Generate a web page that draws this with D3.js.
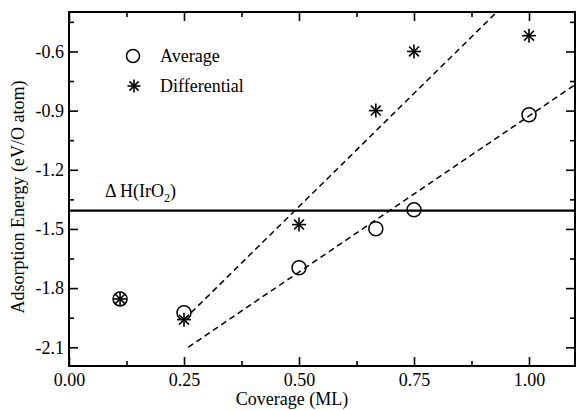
<!DOCTYPE html>
<html>
<head>
<meta charset="utf-8">
<script src="https://cdn.jsdelivr.net/npm/d3@7"></script>
<style>
  body { margin: 0; background: #fff; }
  svg { display: block; }
  text { font-family: 'Liberation Serif', 'DejaVu Serif', serif; }
</style>
</head>
<body>
<div id="chart"></div>
<script>
// coverage (ML) of each calculated structure
const coverage = [0.111, 0.25, 0.5, 0.667, 0.75, 1.0];
// adsorption energies (eV/O atom)
const averageEnergy = [-1.855, -1.925, -1.697, -1.499, -1.403, -0.921];
const differentialEnergy = [-1.855, -1.960, -1.478, -0.900, -0.600, -0.520];
// dashed guide lines, end points
const averageFit = [[0.259, -2.10], [1.10, -0.769]];
const differentialFit = [[0.25, -1.96], [0.93, -0.40]];
// heat of formation of IrO2
const deltaH = -1.407;

const xTicks = [0, 0.25, 0.5, 0.75, 1.0];
const xMinorTicks = [0.125, 0.375, 0.625, 0.875, 1.125];
const yTicks = [-2.1, -1.8, -1.5, -1.2, -0.9, -0.6];
const yMinorTicks = [-1.95, -1.65, -1.35, -1.05, -0.75, -0.45];

const width = 576, height = 410;
const margin = { top: 12, right: 1, bottom: 44, left: 69 };
const serif = "'Liberation Serif', 'DejaVu Serif', serif";

const svg = d3.select('#chart').append('svg')
  .attr('width', width)
  .attr('height', height)
  .attr('font-family', serif);

const x = d3.scaleLinear()
  .domain([0, 1.1])
  .range([margin.left, width - margin.right]);
const y = d3.scaleLinear()
  .domain([-2.195, -0.4])
  .range([height - margin.bottom, margin.top]);

svg.append('clipPath').attr('id', 'plot-clip')
  .append('rect')
    .attr('x', x(0)).attr('y', y(-0.4))
    .attr('width', x(1.1) - x(0)).attr('height', y(-2.195) - y(-0.4));

// ticks point into the plot on all four sides
function frameAxis(axis, major, minor, transform, fmt) {
  const g = svg.append('g').attr('transform', transform);
  g.call(axis.tickValues(major).tickSize(-9).tickFormat(fmt));
  g.attr('font-family', serif).attr('font-size', 18);
  g.select('.domain').remove();
  g.selectAll('.tick line').attr('stroke-width', 1.6);
  const gm = svg.append('g').attr('transform', transform);
  gm.call(axis.tickValues(minor).tickSize(-5).tickFormat(''));
  gm.select('.domain').remove();
  gm.selectAll('.tick line').attr('stroke-width', 1.6);
  return g;
}

const xb = frameAxis(d3.axisBottom(x), xTicks, xMinorTicks, 'translate(0,' + y(-2.195) + ')', d3.format('.2f'));
frameAxis(d3.axisTop(x), xTicks, xMinorTicks, 'translate(0,' + y(-0.4) + ')', '');
const yl = frameAxis(d3.axisLeft(y), yTicks, yMinorTicks, 'translate(' + x(0) + ',0)', d3.format('.1f'));
frameAxis(d3.axisRight(y), yTicks, yMinorTicks, 'translate(' + x(1.1) + ',0)', '');

xb.selectAll('.tick text')
  .attr('fill', '#000')
  .attr('y', 7).attr('dy', '0.71em');
yl.selectAll('.tick text')
  .attr('fill', '#000')
  .attr('x', -5).attr('dy', '0.32em')
  .text(function(d) { return d3.format('.1f')(d).replace('−', '-'); });

svg.append('rect')
  .attr('x', x(0)).attr('y', y(-0.4))
  .attr('width', x(1.1) - x(0)).attr('height', y(-2.195) - y(-0.4))
  .attr('fill', 'none').attr('stroke', '#000').attr('stroke-width', 2);

const plot = svg.append('g').attr('clip-path', 'url(#plot-clip)');

// heat of formation line
plot.append('line')
  .attr('x1', x(0)).attr('x2', x(1.1))
  .attr('y1', y(deltaH)).attr('y2', y(deltaH))
  .attr('stroke', '#000').attr('stroke-width', 2.2);

const line = d3.line()
  .x(function(d) { return x(d[0]) })
  .y(function(d) { return y(d[1]) });

[averageFit, differentialFit].forEach(function(fit) {
  plot.append('path')
    .attr('d', line(fit))
    .attr('fill', 'none').attr('stroke', '#000')
    .attr('stroke-width', 1.5).attr('stroke-dasharray', '6,4');
});

function star(g, cx, cy, r) {
  [0, 45, 90, 135].forEach(function(a) {
    const rad = a * Math.PI / 180;
    g.append('line')
      .attr('x1', cx - r * Math.cos(rad)).attr('y1', cy - r * Math.sin(rad))
      .attr('x2', cx + r * Math.cos(rad)).attr('y2', cy + r * Math.sin(rad))
      .attr('stroke', '#000').attr('stroke-width', 1.6);
  });
}

const avgPoints = coverage.map(function(c, i) { return [c, averageEnergy[i]] });
const diffPoints = coverage.map(function(c, i) { return [c, differentialEnergy[i]] });

plot.selectAll('.avg')
  .data(avgPoints)
  .enter().append('circle')
    .attr('class', 'avg')
    .attr('cx', function(d) { return x(d[0]) })
    .attr('cy', function(d) { return y(d[1]) })
    .attr('r', 7)
    .attr('fill', 'none').attr('stroke', '#000').attr('stroke-width', 1.5);

const stars = plot.append('g');
diffPoints.forEach(function(d) { star(stars, x(d[0]), y(d[1]), 7); });

// legend
const legend = svg.append('g').attr('font-size', 18);
legend.append('circle')
  .attr('cx', 133).attr('cy', 56).attr('r', 6.5)
  .attr('fill', 'none').attr('stroke', '#000').attr('stroke-width', 1.5);
legend.append('text').attr('x', 160).attr('y', 62).text('Average');
star(legend, 134, 86, 6.5);
legend.append('text').attr('x', 160).attr('y', 92).text('Differential');

// ΔH label
const dh = svg.append('text').attr('x', 105).attr('y', 197).attr('font-size', 18);
dh.append('tspan').text('\u0394 H(IrO');
dh.append('tspan').attr('font-size', 12).attr('dy', 5).text('2');
dh.append('tspan').attr('dy', -5).text(')');

// axis titles
svg.append('text')
  .attr('x', x(0.5) - 7).attr('y', 405)
  .attr('text-anchor', 'middle').attr('font-size', 18)
  .text('Coverage (ML)');
svg.append('text')
  .attr('transform', 'translate(24,' + 197 + ') rotate(-90)')
  .attr('text-anchor', 'middle').attr('font-size', 18)
  .text('Adsorption Energy (eV/O atom)');
</script>
</body>
</html>
